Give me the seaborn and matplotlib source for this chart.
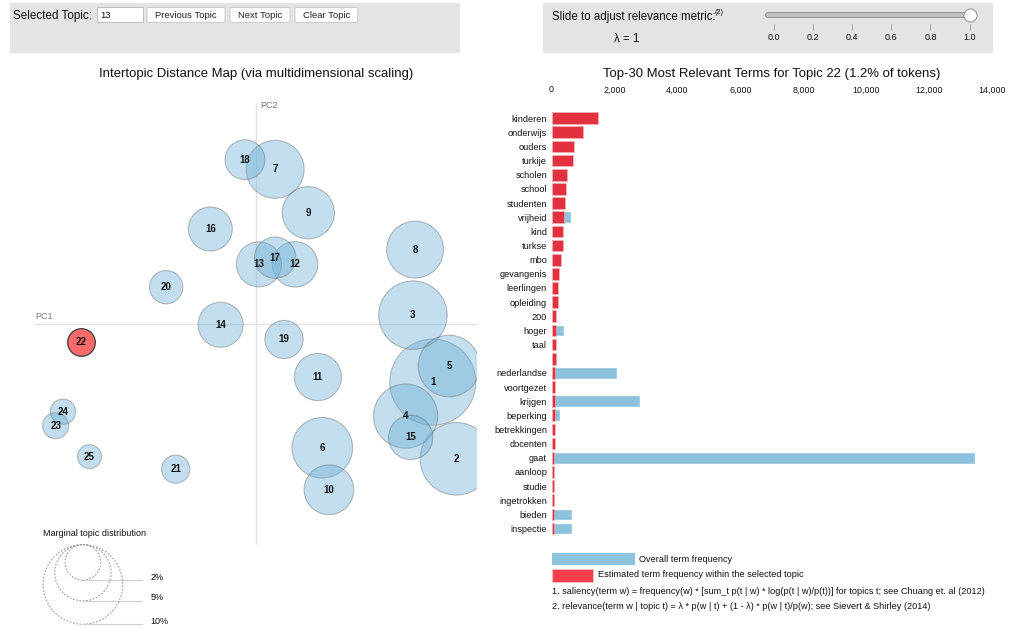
import numpy as np
import pandas as pd
import matplotlib
matplotlib.use("Agg")
import matplotlib.pyplot as plt
import seaborn as sns
from matplotlib.patches import Rectangle, FancyBboxPatch

# ---- intertopic distance map ----
topic_ids = list(range(1, 26))
topic_pc1 = [0.240, 0.272, 0.213, 0.203, 0.262, 0.090, 0.026, 0.216, 0.071, 0.099,
             0.084, 0.053, 0.004, -0.048, 0.210, -0.062, 0.026, -0.015, 0.038, -0.122,
             -0.109, -0.238, -0.272, -0.262, -0.226]
topic_pc2 = [-0.079, -0.183, 0.012, -0.125, -0.057, -0.168, 0.210, 0.101, 0.151, -0.225,
             -0.072, 0.081, 0.081, -0.001, -0.154, 0.129, 0.090, 0.223, -0.021, 0.050,
             -0.197, -0.024, -0.138, -0.119, -0.180]
topic_pct = [11.7, 8.3, 7.4, 6.5, 6.0, 5.8, 5.3, 5.1, 4.3, 3.9,
             3.5, 3.25, 3.2, 3.2, 3.1, 3.05, 2.7, 2.5, 2.3, 1.75,
             1.25, 1.2, 1.07, 1.0, 0.9]
selected_topic = 22
legend_pcts = [2, 5, 10]

# ---- top-30 terms for topic 22 ----
terms = ["kinderen", "onderwijs", "ouders", "turkije", "scholen", "school", "studenten",
         "vrijheid", "kind", "turkse", "mbo", "gevangenis", "leerlingen", "opleiding",
         "200", "hoger", "taal", " ", "nederlandse", "voortgezet", "krijgen", "beperking",
         "betrekkingen", "docenten", "gaat", "aanloop", "studie", "ingetrokken", "bieden",
         "inspectie"]
term_total = [1482, 1005, 709, 698, 486, 466, 423, 624, 370, 365, 286, 233, 222, 201,
              148, 402, 127, 159, 2085, 117, 2804, 254, 105, 103, 13444, 95, 90, 88,
              635, 645]
term_topic = [1482, 1005, 709, 698, 486, 466, 423, 392, 370, 365, 286, 233, 222, 201,
              148, 148, 127, 127, 120, 117, 110, 106, 105, 103, 95, 95, 90, 88, 85, 80]
freq_ticks = [0, 2000, 4000, 6000, 8000, 10000, 12000, 14000]
slider_ticks = [0.0, 0.2, 0.4, 0.6, 0.8, 1.0]
lambda_value = 1

W, H = 1013, 630
CIRCLE_BLUE = "#6baed6"
BAR_BLUE = "#8cc2de"
BAR_RED = "#e3313f"
LEG_RED = "#f73e4b"
SIZE_MAX_PCT = 20
SIZE_PER_PCT = 328.5


def box(x0, y0, x1, y1):
    return [x0 / W, 1 - y1 / H, (x1 - x0) / W, (y1 - y0) / H]


sns.set_theme(style="white")
plt.rcParams["font.family"] = ["Liberation Sans", "DejaVu Sans"]

fig = plt.figure(figsize=(W / 100, H / 100), dpi=100)

# overlay in pixel coordinates for the widget chrome
ui = fig.add_axes([0, 0, 1, 1], zorder=0)
ui.set_xlim(0, W)
ui.set_ylim(H, 0)
ui.axis("off")

# top control panels
ui.add_patch(Rectangle((10, 3), 450, 49.5, facecolor="#e4e4e4", edgecolor="none"))
ui.add_patch(Rectangle((543, 3), 450, 49.5, facecolor="#e4e4e4", edgecolor="none"))
ui.text(13, 15.5, "Selected Topic:", fontsize=8.4, va="center", ha="left", color="#111")
ui.add_patch(Rectangle((96.7, 7.3), 46, 15, facecolor="white", edgecolor="#b5b5b5", lw=0.6))
ui.text(100, 15, "13", fontsize=6.8, va="center", ha="left", color="#111")
for label, x0, x1 in [("Previous Topic", 147, 225), ("Next Topic", 230, 290),
                      ("Clear Topic", 295, 357.7)]:
    ui.add_patch(FancyBboxPatch((x0, 7.5), x1 - x0, 15, boxstyle="round,pad=0,rounding_size=1.5",
                                facecolor="white", edgecolor="#c4c4c4", lw=0.6))
    ui.text((x0 + x1) / 2, 15.2, label, fontsize=6.8, va="center", ha="center", color="#222")

ui.text(551.7, 16.7, "Slide to adjust relevance metric:", fontsize=8.3, va="center",
        ha="left", color="#111")
ui.text(714.5, 12.5, "(2)", fontsize=5.2, va="center", ha="left", color="#111")
ui.text(626.3, 39.3, f"λ = {lambda_value}", fontsize=8.3, va="center", ha="center", color="#111")

# slider
axs = fig.add_axes(box(774, 6, 969.5, 24), zorder=2)
axs.patch.set_alpha(0)
axs.set_xlim(0, 1)
axs.set_ylim(24, 6)
axs.plot([-0.03, 1.02], [14.8, 14.8], color="#8f8f8f", lw=4.2, solid_capstyle="round",
         clip_on=False)
axs.plot([-0.03, 1.02], [14.8, 14.8], color="#c2c2c2", lw=2.8, solid_capstyle="round",
         clip_on=False)
axs.plot([lambda_value], [14.5], "o", ms=9.4, mfc="white", mec="#9a9a9a", mew=0.8,
         clip_on=False)
axs.set_xticks(slider_ticks)
axs.set_xticklabels([f"{t:.1f}" for t in slider_ticks])
axs.set_yticks([])
axs.tick_params(axis="x", bottom=True, direction="out", length=4.3, width=0.6,
                color="#999999", pad=2.5, labelsize=6.5, labelcolor="#111")
for sp in axs.spines.values():
    sp.set_visible(False)

# ---- intertopic distance map ----
ax = fig.add_axes(box(35, 103, 477, 545), zorder=1)
ax.patch.set_alpha(0)
ax.set_xlim(-0.3, 0.3)
ax.set_ylim(-0.3, 0.3)
ax.axis("off")
ax.plot([-0.3, 0.3], [0, 0], color="#e2e2e2", lw=1, zorder=1)
ax.plot([0, 0], [-0.3, 0.3], color="#e2e2e2", lw=1, zorder=1)
ax.text(-0.3, 0.004, "PC1", fontsize=6.5, color="#777", ha="left", va="bottom")
ax.text(0.006, 0.296, "PC2", fontsize=6.5, color="#777", ha="left", va="center")

df_topics = pd.DataFrame({"topic": topic_ids, "pc1": topic_pc1, "pc2": topic_pc2,
                          "pct": topic_pct})
sel = df_topics["topic"] == selected_topic
size_kw = dict(size="pct", sizes=(0, SIZE_PER_PCT * SIZE_MAX_PCT),
               size_norm=(0, SIZE_MAX_PCT), legend=False)
sns.scatterplot(data=df_topics[~sel], x="pc1", y="pc2", color=CIRCLE_BLUE, alpha=0.4,
                edgecolor="#5f5f5f", linewidth=0.8, ax=ax, zorder=2, **size_kw)
sns.scatterplot(data=df_topics[sel], x="pc1", y="pc2", color="#ff6b6b",
                edgecolor="#3a3a3a", linewidth=0.9, ax=ax, zorder=3, **size_kw)
ax.set_xlim(-0.3, 0.3)
ax.set_ylim(-0.3, 0.3)
for _, row in df_topics.iterrows():
    ax.text(row["pc1"], row["pc2"], str(int(row["topic"])), fontsize=7,
            fontweight="bold", ha="center", va="center", color="#111", zorder=4)

# marginal topic distribution legend (same size scale, tangent at the top)
px = 0.6 / 442
leg_x = -0.235
ax.text(-0.2895, -0.2846, "Marginal topic distribution", fontsize=6.5, color="#111",
        ha="left", va="center")
for p in legend_pcts:
    r = np.sqrt(SIZE_PER_PCT * p) / 2 / 0.72 * px
    cy = -0.2995 - r
    ax.scatter([leg_x], [cy], s=SIZE_PER_PCT * p, facecolor="none", edgecolor="#9a9a9a",
               linewidth=0.8, linestyle=(0, (1.5, 1.5)), clip_on=False, zorder=2)
    ax.plot([leg_x, -0.155], [cy - r, cy - r], color="#cfcfcf", lw=0.8, clip_on=False)
    ax.text(-0.1435, cy - r + 0.004, f"{p}%", fontsize=6.5, color="#111", ha="left",
            va="center", clip_on=False)

fig.text(256 / W, 1 - 74 / H, "Intertopic Distance Map (via multidimensional scaling)",
         fontsize=9.45, ha="center", va="center", color="#111")

# ---- bar chart ----
axb = fig.add_axes(box(551.5, 111.1, 992.5, 535.6), zorder=1)
axb.patch.set_alpha(0)
df_terms = pd.DataFrame({"term": terms, "total": term_total, "topic": term_topic})
sns.barplot(data=df_terms, x="total", y="term", order=terms, color=BAR_BLUE,
            saturation=1, width=0.83, errorbar=None, ax=axb)
sns.barplot(data=df_terms, x="topic", y="term", order=terms, color=BAR_RED,
            saturation=1, width=0.83, errorbar=None, ax=axb, edgecolor="#f1b8bd",
            linewidth=0.4)
axb.set_xlim(0, 14000)
axb.set_ylim(len(terms) - 0.5, -0.5)
axb.xaxis.tick_top()
axb.set_xticks(freq_ticks)
axb.set_xticklabels([f"{t:,}" for t in freq_ticks])
axb.tick_params(axis="x", length=0, pad=12, labelsize=6.4, labelcolor="#111")
axb.tick_params(axis="y", length=0, pad=3.2, labelsize=6.6, labelcolor="#111")
axb.set_xlabel("")
axb.set_ylabel("")
for sp in axb.spines.values():
    sp.set_visible(False)

fig.text(772 / W, 1 - 74.5 / H, "Top-30 Most Relevant Terms for Topic 22 (1.2% of tokens)",
         fontsize=9.45, ha="center", va="center", color="#111")

# bar legend and notes
ui.add_patch(Rectangle((551.7, 552.7), 83.3, 12.3, facecolor=BAR_BLUE, edgecolor="none"))
ui.text(639.3, 559, "Overall term frequency", fontsize=6.6, va="center", ha="left",
        color="#111")
ui.add_patch(Rectangle((551.7, 569.3), 41.6, 13, facecolor=LEG_RED, edgecolor="#f6c6ca",
                       lw=0.5))
ui.text(597.7, 574.7, "Estimated term frequency within the selected topic", fontsize=6.6,
        va="center", ha="left", color="#111")
ui.text(551.7, 592, "1. saliency(term w) = frequency(w) * [sum_t p(t | w) * "
        "log(p(t | w)/p(t))] for topics t; see Chuang et. al (2012)", fontsize=6.6,
        va="center", ha="left", color="#111")
ui.text(551.7, 606.5, "2. relevance(term w | topic t) = λ * p(w | t) + (1 - λ) * "
        "p(w | t)/p(w); see Sievert & Shirley (2014)", fontsize=6.6, va="center",
        ha="left", color="#111")

fig.savefig("out.png", dpi=100)
